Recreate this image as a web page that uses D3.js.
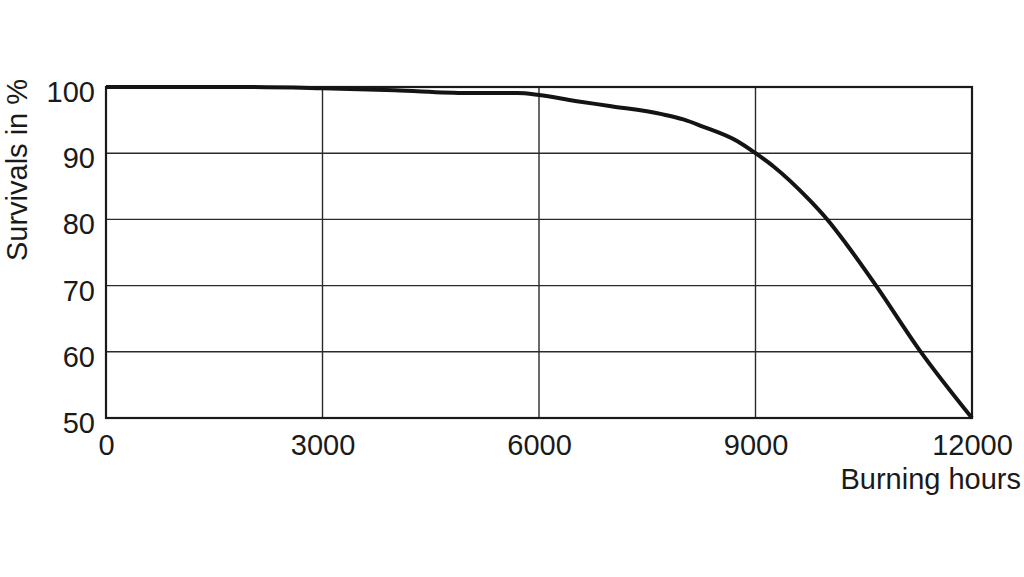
<!DOCTYPE html>
<html><head><meta charset="utf-8">
<script src="https://cdn.jsdelivr.net/npm/d3@7"></script>
<style>html,body{margin:0;padding:0;background:#fff}svg{display:block}</style>
</head><body>
<script>
const hours = [0, 1900, 3000, 4000, 5000, 5700, 6000, 6500, 7000, 7700, 8000, 8250, 8750, 9000, 9250, 9750, 10000, 10250, 10670, 11270, 12000];
const survivals = [100, 100, 99.8, 99.5, 99.1, 99.1, 98.8, 97.9, 97.1, 95.9, 95.1, 94.1, 91.8, 90.0, 88.0, 82.9, 79.9, 76.4, 70.0, 60.3, 50];
const xTicks = [0, 3000, 6000, 9000, 12000];
const yTicks = [50, 60, 70, 80, 90, 100];
const xTitle = "Burning hours";
const yTitle = "Survivals in %";

const W = 1024, H = 577;
const L = 106, R = 972, T = 87, B = 418;
const svg = d3.select("body").append("svg").attr("width", W).attr("height", H);
const x = d3.scaleLinear().domain([0, 12000]).range([L, R]);
const y = d3.scaleLinear().domain([50, 100]).range([B, T]);
const font = "'Liberation Sans', Arial, sans-serif";
const fs = 29;

svg.append("g").selectAll("line.v").data(xTicks).join("line")
  .attr("x1", d => x(d)).attr("x2", d => x(d)).attr("y1", T).attr("y2", B)
  .attr("stroke", "#2a2a2a").attr("stroke-width", 1.4);
svg.append("g").selectAll("line.h").data(yTicks).join("line")
  .attr("x1", L).attr("x2", R).attr("y1", d => y(d)).attr("y2", d => y(d))
  .attr("stroke", "#2a2a2a").attr("stroke-width", 1.4);
svg.append("rect").attr("x", L).attr("y", T).attr("width", R - L).attr("height", B - T)
  .attr("fill", "none").attr("stroke", "#1a1a1a").attr("stroke-width", 2.2);

const yAxis = svg.append("g").attr("transform", `translate(${L},0)`)
  .call(d3.axisLeft(y).tickValues(yTicks).tickSize(0).tickPadding(11));
yAxis.select(".domain").remove();
yAxis.selectAll("text").attr("font-family", font).attr("font-size", fs).attr("fill", "#1a1a1a").attr("dy", "0.5em");

const xAxis = svg.append("g").attr("transform", `translate(0,${B})`)
  .call(d3.axisBottom(x).tickValues(xTicks).tickSize(0).tickPadding(16).tickFormat(d3.format("d")));
xAxis.select(".domain").remove();
xAxis.selectAll("text").attr("font-family", font).attr("font-size", fs).attr("fill", "#1a1a1a");

svg.append("text").attr("x", 1021).attr("y", 489).attr("text-anchor", "end")
  .attr("font-family", font).attr("font-size", fs).attr("fill", "#1a1a1a").text(xTitle);
svg.append("text").attr("transform", "translate(27,170) rotate(-90)").attr("text-anchor", "middle")
  .attr("font-family", font).attr("font-size", fs).attr("fill", "#1a1a1a").text(yTitle);

const data = hours.map((h, i) => [h, survivals[i]]);
svg.append("path").datum(data)
  .attr("d", d3.line().x(d => x(d[0])).y(d => y(d[1])).curve(d3.curveMonotoneX))
  .attr("fill", "none").attr("stroke", "#141414").attr("stroke-width", 4).attr("stroke-linejoin", "round");
</script>
</body></html>
